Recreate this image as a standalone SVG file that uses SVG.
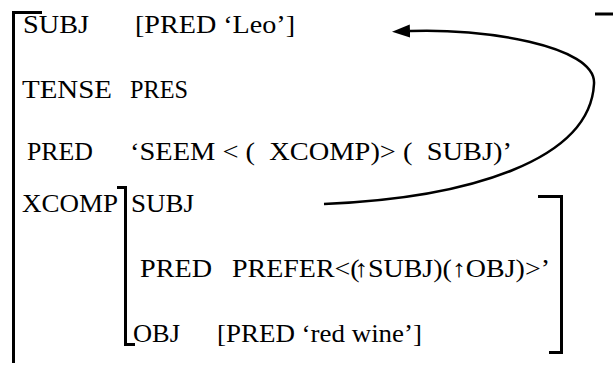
<svg xmlns="http://www.w3.org/2000/svg" width="613" height="365" viewBox="0 0 613 365">
<style>
text{font-family:"Liberation Serif","Times New Roman",serif;font-size:24.5px;fill:#000}
.br{fill:none;stroke:#000;stroke-width:3}
.cn{fill:none;stroke:#000;stroke-width:2.5}
</style>
<defs>
<marker id="ah" markerUnits="userSpaceOnUse" markerWidth="20" markerHeight="14" refX="0" refY="6.5" orient="auto">
<path d="M0,0 L18,6.5 L0,13 z" fill="#000"/>
</marker>
</defs>
<rect width="613" height="365" fill="#fff"/>
<g id="outer-bracket">
<path class="br" d="M42,12.5 H13.5 V363"/>
<path class="br" d="M595,14 H613"/>
</g>
<g id="inner-bracket">
<path class="br" d="M117,187.5 H125.5 V344.5 H135"/>
<path class="br" d="M538,196.5 H561.5 V352.5 H549"/>
</g>
<g id="row-subj">
<text x="23" y="33" textLength="66" lengthAdjust="spacingAndGlyphs">SUBJ</text>
<text x="135" y="33" textLength="160" lengthAdjust="spacingAndGlyphs">[PRED ‘Leo’]</text>
</g>
<g id="row-tense">
<text x="22" y="98" textLength="90" lengthAdjust="spacingAndGlyphs">TENSE</text>
<text x="130" y="98" textLength="58" lengthAdjust="spacingAndGlyphs">PRES</text>
</g>
<g id="row-pred">
<text x="27" y="160" textLength="66" lengthAdjust="spacingAndGlyphs">PRED</text>
<text x="130" y="160" textLength="382" lengthAdjust="spacingAndGlyphs" xml:space="preserve">‘SEEM &lt; (  XCOMP)&gt; (  SUBJ)’</text>
</g>
<g id="row-xcomp">
<text x="22" y="212" textLength="96" lengthAdjust="spacingAndGlyphs">XCOMP</text>
<text x="131" y="212" textLength="63" lengthAdjust="spacingAndGlyphs">SUBJ</text>
</g>
<g id="row-xcomp-pred">
<text x="140" y="277" textLength="72" lengthAdjust="spacingAndGlyphs">PRED</text>
<text x="232" y="277" textLength="318" lengthAdjust="spacingAndGlyphs">PREFER&lt;(<tspan dx="-5">↑</tspan>SUBJ)(↑OBJ)&gt;’</text>
</g>
<g id="row-xcomp-obj">
<text x="133" y="342" textLength="47" lengthAdjust="spacingAndGlyphs">OBJ</text>
<text x="217" y="342" textLength="205" lengthAdjust="spacingAndGlyphs">[PRED ‘red wine’]</text>
</g>
<g id="connectors">
<path class="cn" marker-end="url(#ah)" d="M324,204 C470,198 590,160 594,84 C597,45 480,28 410,31"/>
</g>
</svg>
